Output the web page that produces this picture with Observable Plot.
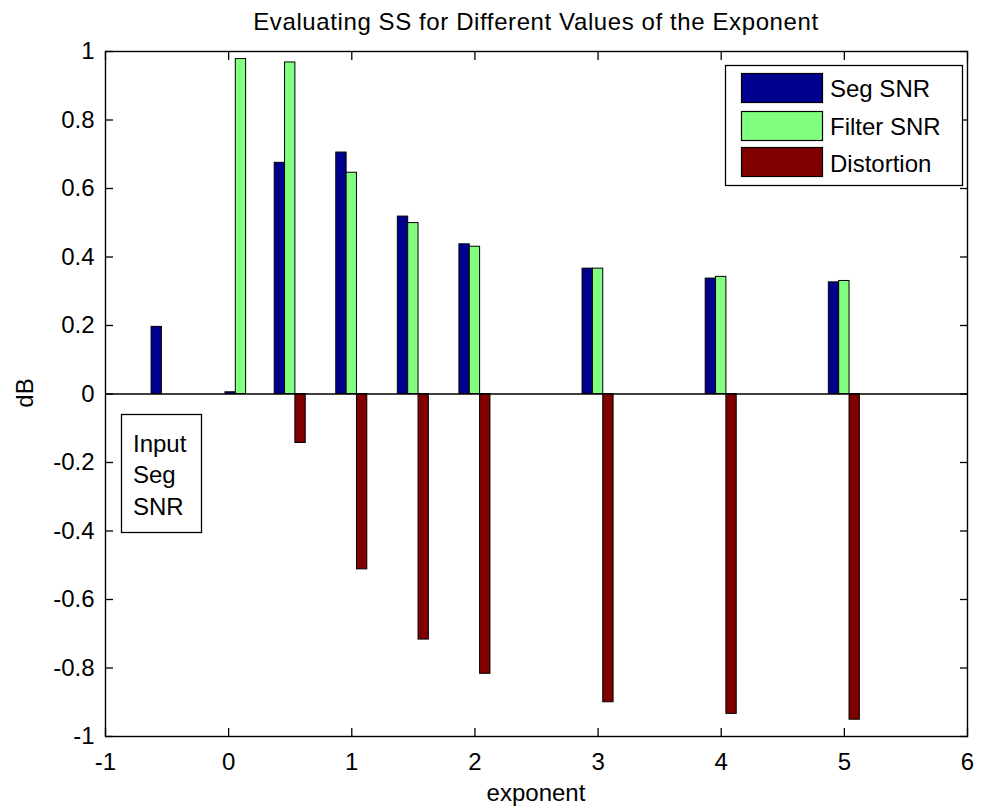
<!DOCTYPE html>
<html>
<head>
<meta charset="utf-8">
<script src="https://cdn.jsdelivr.net/npm/d3@7"></script>
<script src="https://cdn.jsdelivr.net/npm/@observablehq/plot@0.6"></script>
<style>
  body { margin: 0; background: #fff; }
  #wrap { position: relative; width: 981px; height: 809px; background: #fff; }
  #wrap svg { position: absolute; left: 0; top: 0; }
  .ov text { font-family: "Liberation Sans", Arial, sans-serif; font-size: 24px; fill: #000; }
</style>
</head>
<body>
<div id="wrap"></div>
<script>
// ---- data ----
const exponents  = [-0.5, 0.1, 0.5, 1, 1.5, 2, 3, 4, 5];
const segSNR     = [0.196, 0.005, 0.675, 0.705, 0.518, 0.437, 0.366, 0.337, 0.326];
const filterSNR  = [0, 0.978, 0.968, 0.646, 0.499, 0.430, 0.366, 0.342, 0.330];
const distortion = [0, 0, -0.143, -0.512, -0.717, -0.817, -0.900, -0.934, -0.951];
const seriesNames  = ["Seg SNR", "Filter SNR", "Distortion"];
const seriesColors = ["#00008f", "#80ff80", "#800000"];
const xTicks = [-1, 0, 1, 2, 3, 4, 5, 6];
const yTicks = [-1, -0.8, -0.6, -0.4, -0.2, 0, 0.2, 0.4, 0.6, 0.8, 1];
const titleText = "Evaluating SS for Different Values of the Exponent";
const xLabel = "exponent";
const yLabel = "dB";
const noteLines = ["Input", "Seg", "SNR"];

// ---- build rows ----
const barW = 0.084;
const offsets = [-0.084, 0, 0.084];
const rows = [];
[segSNR, filterSNR, distortion].forEach((vals, s) =>
  vals.forEach((v, i) => rows.push({series: seriesNames[s], x: exponents[i], off: offsets[s], v}))
);

const fmt = v => String(Math.round(v * 10) / 10);
const font = '"Liberation Sans", Arial, sans-serif';

const chart = Plot.plot({
  width: 981,
  height: 809,
  marginLeft: 105,
  marginRight: 14,
  marginTop: 51,
  marginBottom: 73,
  style: {fontFamily: font, fontSize: "24px", color: "#000", background: "transparent", overflow: "visible"},
  x: {domain: [-1, 6]},
  y: {domain: [-1, 1]},
  color: {domain: seriesNames, range: seriesColors},
  marks: [
    Plot.rectY(rows, {
      x1: d => d.x + d.off - barW / 2,
      x2: d => d.x + d.off + barW / 2,
      y1: 0,
      y2: "v",
      fill: "series",
      stroke: "black",
      strokeWidth: 1
    }),
    Plot.ruleY([0], {stroke: "black", strokeWidth: 1.4}),
    Plot.axisX(xTicks, {anchor: "bottom", tickSize: -8, tickPadding: 24, tickFormat: fmt, label: null, strokeWidth: 1.3}),
    Plot.axisX(xTicks, {anchor: "top", tickSize: -8, tickFormat: () => "", label: null, strokeWidth: 1.3}),
    Plot.axisY(yTicks, {anchor: "left", tickSize: -8, tickPadding: 19, tickFormat: fmt, label: null, strokeWidth: 1.3}),
    Plot.axisY(yTicks, {anchor: "right", tickSize: -8, tickFormat: () => "", label: null, strokeWidth: 1.3}),
    Plot.frame({stroke: "black", strokeWidth: 1.4})
  ]
});

const wrap = document.getElementById("wrap");
wrap.appendChild(chart);

// ---- overlay: title, axis labels, legend, note ----
const ns = "http://www.w3.org/2000/svg";
const ov = document.createElementNS(ns, "svg");
ov.setAttribute("width", 981);
ov.setAttribute("height", 809);
ov.setAttribute("class", "ov");
wrap.appendChild(ov);

function el(tag, attrs, text) {
  const e = document.createElementNS(ns, tag);
  for (const k in attrs) e.setAttribute(k, attrs[k]);
  if (text != null) e.textContent = text;
  ov.appendChild(e);
  return e;
}

el("text", {x: 536, y: 30, "text-anchor": "middle", "letter-spacing": "0.6"}, titleText);
el("text", {x: 536, y: 801, "text-anchor": "middle"}, xLabel);
el("text", {transform: "translate(33,393) rotate(-90)", "text-anchor": "middle"}, yLabel);

// legend
el("rect", {x: 725.5, y: 65.5, width: 237, height: 120, fill: "#fff", stroke: "#000", "stroke-width": 1.3});
const legY = [73, 111, 147];
const legBase = [97, 135, 171.5];
seriesNames.forEach((n, i) => {
  el("rect", {x: 741.5, y: legY[i] + 0.5, width: 81, height: 29, fill: seriesColors[i], stroke: "#000", "stroke-width": 1.2});
  el("text", {x: 830, y: legBase[i]}, n);
});

// note box
el("rect", {x: 121.5, y: 414.5, width: 80, height: 118, fill: "#fff", stroke: "#000", "stroke-width": 1.3});
const noteBase = [452, 483, 515];
noteLines.forEach((t, i) => el("text", {x: 133, y: noteBase[i]}, t));
</script>
</body>
</html>
